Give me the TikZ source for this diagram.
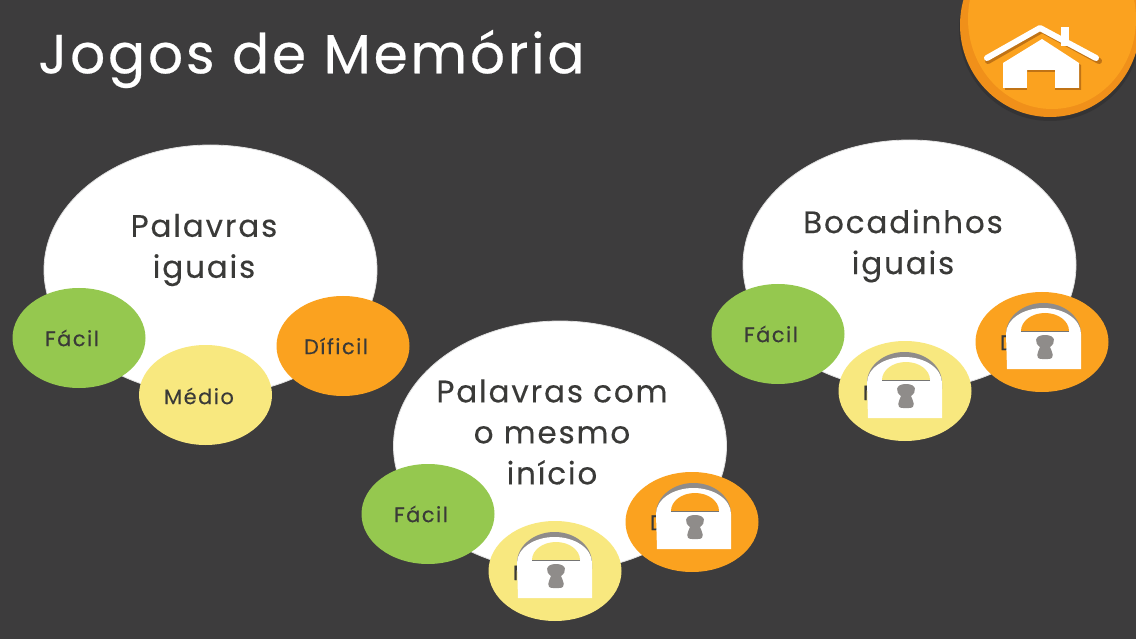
\documentclass[tikz,border=0pt]{standalone}
\usepackage{fontspec}
\setmainfont{Poppins}
\newfontface\titlefont[LetterSpace=5,FakeBold=0.4]{Poppins}
\newfontface\bigfont[LetterSpace=6,FakeBold=0.25]{Poppins}
\newfontface\smallfont[LetterSpace=7,FakeBold=0.3]{Poppins}
\usetikzlibrary{shapes.geometric}
\definecolor{bgc}{HTML}{3D3C3D}
\definecolor{grn}{HTML}{95C84F}
\definecolor{yel}{HTML}{F8E87F}
\definecolor{org}{HTML}{FBA21F}
\definecolor{orgd}{HTML}{F0901A}
\definecolor{ink}{HTML}{3A3A38}
\definecolor{lockgrey}{HTML}{8F8C8A}
\tikzset{
  big/.style={ellipse,fill=white,draw=black!12,line width=.8pt,minimum width=333pt,minimum height=250pt,inner sep=0pt},
  bigtext/.style={inner sep=0pt,text=ink,font=\bigfont\fontsize{31}{41}\selectfont,align=center},
  small/.style={ellipse,minimum width=133pt,minimum height=100pt,inner sep=0pt},
  smalltext/.style={inner sep=0pt,text=ink,font=\smallfont\fontsize{21}{24}\selectfont},
  easy/.style={small,fill=grn},
  mid/.style={small,fill=yel},
  hard/.style={small,fill=org},
  pics/padlock/.style={code={
    \fill[lockgrey] (-36,-2) -- (-36,-8) arc[start angle=180,end angle=360,x radius=37.5,y radius=31] -- (39,-2) -- cycle;
    \fill[white] (-35,27) -- (-36,-8) arc[start angle=180,end angle=360,x radius=37.5,y radius=26] -- (39,27) -- cycle;
    \fill[#1] (-21,-11) arc[start angle=180,end angle=360,x radius=24,y radius=18] -- cycle;
    \draw[ink!70,line width=.8pt] (-21,-11) -- (27,-11);
    \fill[lockgrey] (3,-7) .. controls (-8,-7) and (-8,1) .. (-2,5) .. controls (-4,10) and (-8,17) .. (0,17) -- (6,17) .. controls (14,17) and (10,10) .. (8,5) .. controls (14,1) and (14,-7) .. (3,-7) -- cycle;
  }}
}
\begin{document}
\begin{tikzpicture}[x=1pt,y=-1pt]
\useasboundingbox (0,0) rectangle (1136,639);
\fill[bgc] (0,0) rectangle (1136,639);
\node[anchor=west,text=white,inner sep=0pt,font=\titlefont\fontsize{55}{60}\selectfont] (title) at (38,59) {Jogos de Memória};
% home button
\fill[bgc!85!black] (1050,29) ellipse[x radius=91,y radius=92];
\node[ellipse,fill=orgd,minimum width=180pt,minimum height=184pt,inner sep=0pt] (home) at (1050,25) {};
\fill[org] (1052,19) ellipse[x radius=84,y radius=90];
\draw[orgd!80!black,line width=6pt,line cap=round,line join=round] (988,61) -- (1042,30) -- (1099,61);
\fill[orgd!80!black] (1005,65) -- (1044,41) -- (1081,65) -- (1081,90) -- (1005,90) -- cycle;
\fill[white] (1003,63) -- (1042,39) -- (1079,63) -- (1079,88) -- (1055,88) -- (1055,70) -- (1027,70) -- (1027,88) -- (1003,88) -- cycle;
\fill[org] (1027,72) rectangle (1055,91);
\fill[white] (1061,27) rectangle (1069,46);
\draw[white,line width=6pt,line cap=round,line join=round] (987,58) -- (1040,28) -- (1096,58);
% group 1
\node[big] (b1) at (210.5,270) {};
\node[bigtext] (tb1) at (204,250) {Palavras\\iguais};
\node[easy] (e1) at (79,338) {};
\node[smalltext] (te1) at (72,338) {Fácil};
\node[mid] (m1) at (205.5,395) {};
\node[smalltext] (tm1) at (199,396) {Médio};
\node[hard] (h1) at (343,346) {};
\node[smalltext] (th1) at (336,346) {Díficil};
% group 2
\node[big] (b2) at (909.5,265) {};
\node[bigtext] (tb2) at (903,246) {Bocadinhos\\iguais};
\node[easy] (e2) at (778,334) {};
\node[smalltext] (te2) at (771,334) {Fácil};
\node[mid] (m2) at (905,391) {};
\node[smalltext] (tm2) at (898,392) {Médio};
\node[hard] (h2) at (1042,342) {};
\node[smalltext] (th2) at (1032,342) {Díficil};
\pic at (903,391) {padlock=yel};
\pic at (h2) {padlock=org};
% group 3
\node[big] (b3) at (560,446) {};
\node[bigtext] (tb3) at (552,432) {Palavras com\\o mesmo\\início};
\node[easy] (e3) at (428,514) {};
\node[smalltext] (te3) at (421,514) {Fácil};
\node[mid] (m3) at (555,571) {};
\node[smalltext] (tm3) at (548,572) {Médio};
\node[hard] (h3) at (692,522) {};
\node[smalltext] (th3) at (682,522) {Díficil};
\pic at (553,571) {padlock=yel};
\pic at (h3) {padlock=org};
\end{tikzpicture}
\end{document}
